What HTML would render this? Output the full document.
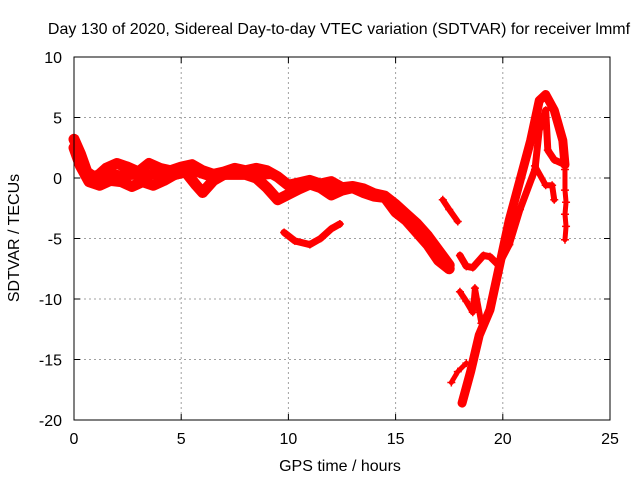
<!DOCTYPE html>
<html><head><meta charset="utf-8"><style>
body{margin:0;background:#fff;}
svg{display:block;font-family:"Liberation Sans",Arial,sans-serif;}
</style></head><body>
<svg id="chart" width="640" height="480" viewBox="0 0 640 480">
<rect width="640" height="480" fill="#fff"/>
<text x="339" y="34" font-size="16" text-anchor="middle">Day 130 of 2020, Sidereal Day-to-day VTEC variation (SDTVAR) for receiver lmmf</text>
<g id="grid"></g>
<g id="series"></g>
<g id="axes"></g>
<text x="340" y="471" font-size="16" text-anchor="middle">GPS time / hours</text>
<text transform="translate(19,238) rotate(-90)" font-size="16" text-anchor="middle">SDTVAR / TECUs</text>
</svg>
<script>
const xTicks=[0,5,10,15,20,25];
const yTicks=[10,5,0,-5,-10,-15,-20];
const trackA_x=[0,0.3,0.6,1,1.5,2,2.5,3,3.5,4,4.5,5,5.5,6,6.5,7,7.5,8,8.5,9,9.5,10,10.5,11,11.5,12,12.5,13,13.5,14,14.5,15,15.5,16,16.5,17,17.5];
const trackA_y=[3.2,2,0.5,0,0.8,1.2,0.9,0.5,1.2,0.8,0.6,0.9,1.1,0.6,0.3,0.5,0.8,0.6,0.8,0.6,0.1,-0.6,-0.4,-0.2,-0.5,-0.3,-0.8,-0.7,-0.9,-1.3,-1.5,-2.2,-3,-3.8,-4.8,-6,-7.2];
const trackB_x=[0,0.3,0.7,1.2,1.7,2.2,2.7,3.2,3.7,4.2,4.7,5.2,5.7,6,6.5,7,8,8.5,9,9.5,10.5,11,11.5,12,12.5,13,13.5,14,14.5,15,15.5,16,16.5,17,17.5];
const trackB_y=[2.5,1,-0.3,-0.6,-0.2,-0.3,-0.7,-0.3,-0.6,-0.2,0.3,0.5,-0.6,-1.2,-0.2,0.3,0.3,0,-0.8,-1.8,-0.9,-0.5,-0.8,-1.4,-1,-0.8,-1.2,-1.5,-1.6,-2.8,-3.5,-4.5,-5.5,-6.8,-7.5];
const trackM_x=[0.2,0.8,1.5,2.5,3.5,4.5,5.5,6.5,7.5,8.5,9.3,9.8,10.3,11,12,13];
const trackM_y=[1.5,0.2,0.4,0.2,0.3,0.1,0.6,0,0.4,0.2,0.3,-0.3,-0.8,-0.6,-0.7,-0.9];
const trackC_x=[9.8,10.3,11,11.5,12,12.4];
const trackC_y=[-4.5,-5.2,-5.5,-5,-4.2,-3.8];
const trackD_x=[17.2,17.5,17.9];
const trackD_y=[-1.8,-2.6,-3.6];
const trackE_x=[18,18.3,18.6,19.1,19.4,19.8,20.3];
const trackE_y=[-6.4,-7.3,-7.4,-6.4,-6.5,-7.2,-5.5];
const trackF_x=[18.1,18.5,18.9,19.4,19.9,20.3,20.8,21.3,21.7,22,22.4,22.8,22.9];
const trackF_y=[-18.6,-16,-13,-10.9,-6.8,-3.5,-0.2,3.1,6.4,6.9,5.6,3.1,1.1];
const trackG_x=[20.3,20.8,21.5,21.7,22,22.1,22.4,22.9];
const trackG_y=[-5.5,-2.6,0.7,4,5.6,2.3,1.5,1.1];
const trackH_x=[21.5,22,22.3,22.4];
const trackH_y=[1,-0.6,-0.6,-1.8];
const trackI_x=[22.9,22.9,22.95,22.9,22.95,22.9];
const trackI_y=[0.7,-1,-2,-3,-4,-5.1];
const trackJ_x=[18,18.3,18.6,18.7,19];
const trackJ_y=[-9.4,-10.2,-11.1,-9.1,-12];
const trackK_x=[17.6,17.9,18.3];
const trackK_y=[-16.9,-16,-15.3];
const tracks=[[trackA_x,trackA_y,11],[trackB_x,trackB_y,11],[trackM_x,trackM_y,9],[trackC_x,trackC_y,7],[trackD_x,trackD_y,6],[trackE_x,trackE_y,7],[trackF_x,trackF_y,9],[trackG_x,trackG_y,7],[trackH_x,trackH_y,6],[trackI_x,trackI_y,5],[trackJ_x,trackJ_y,6],[trackK_x,trackK_y,5]];
const X0=74,X1=610,Y0=57,Y1=420;
function sx(v){return X0+(v-0)/(25-0)*(X1-X0);}
function sy(v){return Y1-(v+20)/(30)*(Y1-Y0);}
const NS='http://www.w3.org/2000/svg';
function mk(tag,attrs,parent){const e=document.createElementNS(NS,tag);for(const k in attrs)e.setAttribute(k,attrs[k]);parent.appendChild(e);return e;}
const grid=document.getElementById('grid'),axes=document.getElementById('axes'),ser=document.getElementById('series');
xTicks.forEach(t=>{
  const x=sx(t);
  if(t>0&&t<25){const l=mk('line',{x1:x,y1:Y0,x2:x,y2:Y1,stroke:'#a0a0a0','stroke-dasharray':'2,3'},grid);
  
  }
  const tk=mk('path',{d:`M${x},${Y1}v-6M${x},${Y0}v6`,stroke:'#000'},axes);
  
  
  const tx=mk('text',{x:x,y:Y1+24,'font-size':16,'text-anchor':'middle'},axes);tx.textContent=t;
  
  
});
yTicks.forEach(t=>{
  const y=sy(t);
  if(t>-20&&t<10){const l=mk('line',{x1:X0,y1:y,x2:X1,y2:y,stroke:'#a0a0a0','stroke-dasharray':'2,3'},grid);
  
  }
  const tk=mk('path',{d:`M${X0},${y}h6M${X1},${y}h-6`,stroke:'#000'},axes);
  
  
  const tx=mk('text',{x:X0-12,y:y+6,'font-size':16,'text-anchor':'end'},axes);tx.textContent=t;
  
  
});
const border=mk('rect',{x:X0,y:Y0,width:X1-X0,height:Y1-Y0,fill:'none',stroke:'#000','stroke-width':1},axes);


tracks.forEach(tr=>{
  const xs=tr[0],ys=tr[1],w=tr[2];
  const pts=xs.map((x,i)=>sx(x)+','+sy(ys[i])).join(' ');
  const pl=mk('polyline',{points:pts,fill:'none',stroke:'#ff0000','stroke-width':w,'stroke-linejoin':'round','stroke-linecap':'round'},ser);
  
  
  xs.forEach((x,i)=>{
    const px=sx(x),py=sy(ys[i]);
    const m=mk('path',{d:`M${px-4},${py}h8M${px},${py-4}v8`,stroke:'#ff0000','stroke-width':1.5},ser);
    
    
  });
});
</script>
</body></html>
